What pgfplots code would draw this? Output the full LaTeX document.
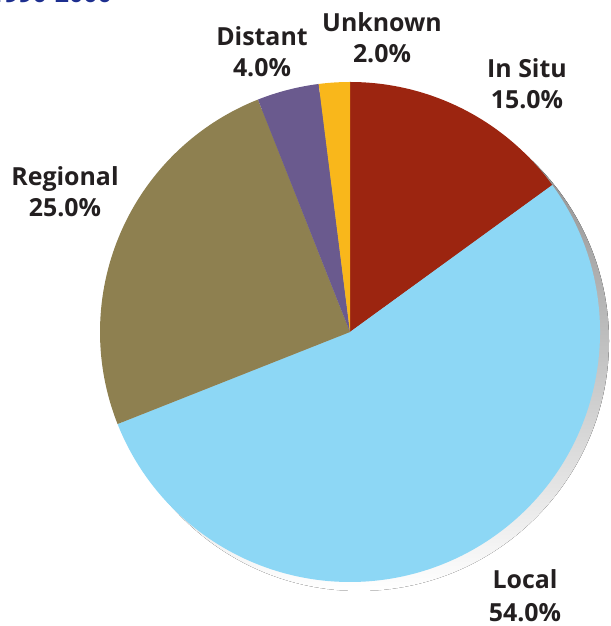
\documentclass[border=0pt]{standalone}
\usepackage{pgfplots}
\pgfplotsset{compat=1.18}
\usepackage{fontspec}
\setmainfont{Open Sans}
\definecolor{insitu}{HTML}{9C2510}
\definecolor{local}{HTML}{8DD7F5}
\definecolor{regional}{HTML}{8E8050}
\definecolor{distant}{HTML}{6A5A8E}
\definecolor{unknown}{HTML}{F9B71B}
\definecolor{shade}{HTML}{E2E3E5}
\definecolor{txt}{HTML}{231F20}
\definecolor{ttl}{HTML}{1D2F8F}
% one slice from cumulative percent #1 to #2, clockwise from 12 o'clock
\newcommand\slice[3]{%
  \fill[#3] (axis cs:0,0) -- ++({90-3.6*#1}:250bp)
    arc[start angle={90-3.6*#1}, end angle={90-3.6*#2}, radius=250bp] -- cycle;}
\begin{document}
\begin{tikzpicture}[every node/.style={font=\fontsize{25}{30}\selectfont\bfseries, text=txt, inner sep=0pt}]
\useasboundingbox (0,0) rectangle (611bp,626bp);
\begin{axis}[
  hide axis, clip=false,
  x=250bp, y=250bp,
  xmin=-1.1, xmax=1.1, ymin=-1.1, ymax=1.1,
  anchor=origin, at={(350bp,294bp)},
]
\fill[shade] (axis cs:0,0) ++(9bp,-9bp) circle[radius=250bp];
\slice{0}{15}{insitu}
\slice{15}{69}{local}
\slice{69}{94}{regional}
\slice{94}{98}{distant}
\slice{98}{100}{unknown}
\end{axis}
\node[anchor=base east, text=ttl] at (112bp,623bp) {1990-2000};
\node[anchor=base] at (262bp,580bp) {Distant};
\node[anchor=base] at (262bp,549bp) {4.0\%};
\node[anchor=base] at (382bp,594bp) {Unknown};
\node[anchor=base] at (382bp,563bp) {2.0\%};
\node[anchor=base] at (527bp,548bp) {In Situ};
\node[anchor=base] at (527bp,517bp) {15.0\%};
\node[anchor=base] at (65bp,440bp) {Regional};
\node[anchor=base] at (65bp,409bp) {25.0\%};
\node[anchor=base] at (525bp,38bp) {Local};
\node[anchor=base] at (525bp,5bp) {54.0\%};
\end{tikzpicture}
\end{document}
